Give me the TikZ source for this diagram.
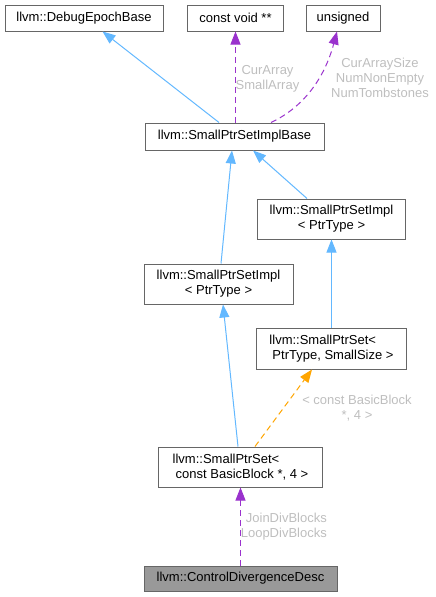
\documentclass[tikz,border=0pt]{standalone}
\usepackage{fontspec}
\setmainfont{Liberation Sans}
\usetikzlibrary{arrows.meta}
\definecolor{edgeblue}{HTML}{63B8FF}
\definecolor{edgepurple}{HTML}{9A32CD}
\definecolor{edgeorange}{HTML}{FFA500}
\definecolor{boxgray}{HTML}{666666}
\definecolor{labelgray}{HTML}{BEBEBE}
\definecolor{fillgray}{HTML}{999999}
\tikzset{
  cls/.style={draw=boxgray, line width=1pt, fill=white, inner sep=0pt, align=center,
    font=\fontsize{13}{15}\selectfont},
  tip/.style={-{Triangle[length=13pt,width=10pt]}},
  inh/.style={draw=edgeblue, line width=1pt, tip},
  mem/.style={draw=edgepurple, line width=1pt, dash pattern=on 6pt off 4pt, tip},
  tmpl/.style={draw=edgeorange, line width=1pt, dash pattern=on 6pt off 4pt, tip},
  elabel/.style={text=labelgray, inner sep=0pt, align=center, font=\fontsize{13}{15}\selectfont},
}
\begin{document}
\begin{tikzpicture}[x=1pt,y=-1pt]
\useasboundingbox (0,0) rectangle (436,597);
\node[cls, minimum width=158pt, minimum height=26pt] (deb) at (84,18) {llvm::DebugEpochBase};
\node[cls, minimum width=96pt, minimum height=26pt] (cvoid) at (235.5,18) {const void **};
\node[cls, minimum width=74pt, minimum height=26pt] (unsig) at (343,18) {unsigned};
\node[cls, minimum width=179pt, minimum height=27pt] (base) at (234.5,136.5) {llvm::SmallPtrSetImplBase};
\node[cls, minimum width=148pt, minimum height=40pt] (implR) at (331.5,219) {llvm::SmallPtrSetImpl\\< PtrType >};
\node[cls, minimum width=149pt, minimum height=40pt] (implL) at (218.5,284) {llvm::SmallPtrSetImpl\\< PtrType >};
\node[cls, align=left, minimum width=150pt, minimum height=41pt] (setPS) at (331.5,348.5) {llvm::SmallPtrSet<\\\hspace{3pt}PtrType, SmallSize >};
\node[cls, align=left, minimum width=164pt, minimum height=40pt] (setBB) at (240.5,467) {llvm::SmallPtrSet<\\\hspace{3pt}const BasicBlock *, 4 >};
\node[cls, fill=fillgray, minimum width=193pt, minimum height=25pt] (cdd) at (240.5,578.5) {llvm::ControlDivergenceDesc};

\draw[inh] ([xshift=-15.5pt]base.north) -- ([xshift=18.5pt]deb.south);
\draw[mem] (base.north -| cvoid.south) -- (cvoid.south);
\node[elabel] (lab1) at (267.5,78.5) {CurArray\\SmallArray};
\draw[mem] ([xshift=36.5pt]base.north) .. controls (302,108) and (324,80) .. ([xshift=-6pt]unsig.south);
\node[elabel] (lab2) at (380,78) {CurArraySize\\NumNonEmpty\\NumTombstones};
\draw[inh] ([xshift=2.5pt]implL.north) -- ([xshift=-2.5pt]base.south);
\draw[inh] ([xshift=-24.5pt]implR.north) -- ([xshift=18.5pt]base.south);
\draw[inh] (setPS.north) -- (implR.south);
\draw[inh] ([xshift=-2.5pt]setBB.north) -- ([xshift=4.5pt]implL.south);
\draw[tmpl] ([xshift=14.5pt]setBB.north) -- ([xshift=-19.5pt]setPS.south);
\node[elabel] (lab3) at (357,408.5) {< const BasicBlock\\*, 4 >};
\draw[mem] (cdd.north -| setBB.south) -- (setBB.south);
\node[elabel, anchor=east, align=right] (lab4) at (327,527) {JoinDivBlocks\\LoopDivBlocks};
\end{tikzpicture}
\end{document}
